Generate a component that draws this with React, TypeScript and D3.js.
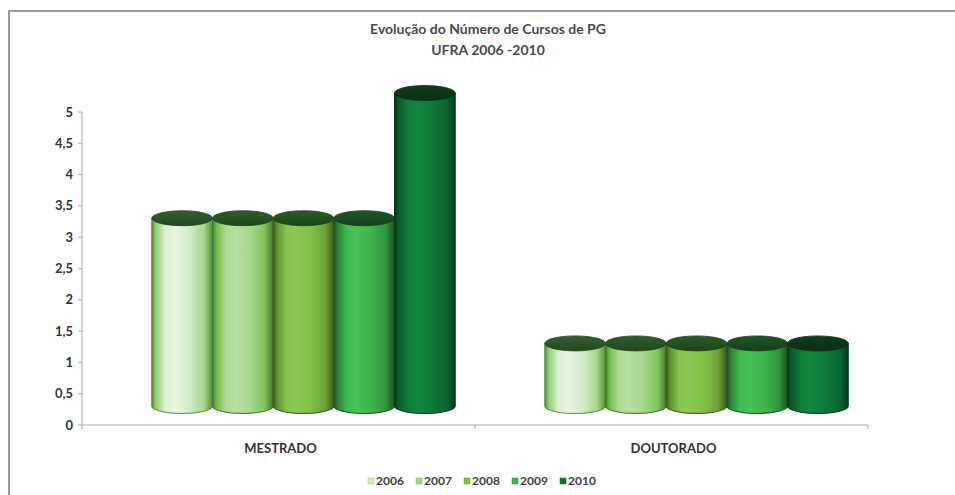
import React from 'react';
import * as d3 from 'd3';

const categories = ['MESTRADO', 'DOUTORADO'];
const years = ['2006', '2007', '2008', '2009', '2010'];
// cursos por categoria, um valor por ano
const mestrado = [3, 3, 3, 3, 5];
const doutorado = [1, 1, 1, 1, 1];
const yTicks = [0, 0.5, 1, 1.5, 2, 2.5, 3, 3.5, 4, 4.5, 5];

const bodyColors = ['#d3ebc6', '#a6d68c', '#80c244', '#3cb44b', '#0d7a38'];
const topColors = ['#2c5a2b', '#285826', '#255621', '#1c5022', '#0d3a18'];

const W = 955;
const H = 495;
const font = 'Lato, "Open Sans", sans-serif';
const depthX = 23; // deslocamento 3D
const depthY = 19;

const App = () => {
  const y = d3.scaleLinear().domain([0, 5]).range([425, 112]);
  const x0 = d3.scaleBand().domain(categories).range([84, 870]);
  const groupW = x0.bandwidth() * 0.772;
  const x1 = d3.scaleBand().domain(years).range([0, groupW]);
  const values = [mestrado, doutorado];
  const rx = x1.bandwidth() / 2;
  const ry = 7.5;
  const fmt = (v: number) => String(v).replace('.', ',');

  const shade = (c: string, k: number) => {
    const col = d3.hsl(c);
    return k > 0 ? col.brighter(k).formatHex() : col.darker(-k).formatHex();
  };

  return (
    <svg width={W} height={H} style={{ position: 'absolute', left: 0, top: 0 }} fontFamily={font}>
      <defs>
        {bodyColors.map((c, i) => (
          <linearGradient key={i} id={`body${i}`} x1="0" x2="1" y1="0" y2="0">
            <stop offset="0%" stopColor={shade(c, -2.2)} />
            <stop offset="7%" stopColor={shade(c, -0.8)} />
            <stop offset="22%" stopColor={shade(c, 0.1)} />
            <stop offset="38%" stopColor={shade(c, 0.25)} />
            <stop offset="62%" stopColor={c} />
            <stop offset="86%" stopColor={shade(c, -0.55)} />
            <stop offset="100%" stopColor={shade(c, -2.2)} />
          </linearGradient>
        ))}
        {topColors.map((c, i) => (
          <linearGradient key={i} id={`top${i}`} x1="0" x2="0" y1="0" y2="1">
            <stop offset="0%" stopColor={shade(c, 0.25)} />
            <stop offset="100%" stopColor={shade(c, -0.7)} />
          </linearGradient>
        ))}
      </defs>
      <rect x={0} y={0} width={W} height={H} fill="#ffffff" />
      <rect x={9} y={11} width={W + 20} height={H + 20} fill="none" stroke="#9a9a9a" strokeWidth={2} />

      <text x={488} y={34} textAnchor="middle" fontSize={14} fontWeight={700} fill="#4a4a4a">
        Evolução do Número de Cursos de PG
      </text>
      <text x={488} y={55} textAnchor="middle" fontSize={14} fontWeight={700} fill="#4a4a4a">
        UFRA 2006 -2010
      </text>

      {/* eixo Y */}
      <line x1={82} x2={82} y1={y(5)} y2={y(0)} stroke="#a8a8a8" />
      {yTicks.map((t) => (
        <g key={t}>
          <line x1={78} x2={82} y1={y(t)} y2={y(t)} stroke="#a8a8a8" />
          <text x={73} y={y(t)} dy="0.35em" textAnchor="end" fontSize={13} fontWeight={700} fill="#333">
            {fmt(t)}
          </text>
        </g>
      ))}

      {/* eixo X */}
      <line x1={82} x2={868} y1={y(0)} y2={y(0)} stroke="#a8a8a8" />
      {[82, 475, 868].map((xx, i) => (
        <line key={i} x1={xx} x2={xx} y1={y(0)} y2={y(0) + 4} stroke="#a8a8a8" />
      ))}
      {categories.map((c) => (
        <text key={c} x={(x0(c) as number) + x0.bandwidth() / 2} y={453} textAnchor="middle"
          fontSize={13} fontWeight={700} fill="#333">
          {c}
        </text>
      ))}

      {/* cilindros */}
      {categories.map((c, ci) => {
        const gx = (x0(c) as number) + x0.bandwidth() / 2 - groupW / 2 + depthX;
        return (
          <g key={c}>
            {values[ci].map((v, i) => {
              const cx = gx + (x1(years[i]) as number) + rx;
              const yb = y(0) - depthY;
              const yt = y(v) - depthY;
              const body = `M${cx - rx},${yt} L${cx - rx},${yb} A${rx},${ry} 0 0 0 ${cx + rx},${yb} L${cx + rx},${yt} Z`;
              return (
                <g key={i}>
                  <path d={body} fill={`url(#body${i})`} stroke={shade(bodyColors[i], -2.2)} strokeWidth={1.1} />
                  <ellipse cx={cx} cy={yt} rx={rx} ry={ry} fill={`url(#top${i})`}
                    stroke={shade(topColors[i], -0.8)} strokeWidth={0.8} />
                </g>
              );
            })}
          </g>
        );
      })}

      {/* legenda */}
      {years.map((yr, i) => (
        <g key={yr} transform={`translate(${368 + i * 48},481)`}>
          <rect x={0} y={-3} width={6} height={6} fill={bodyColors[i]} stroke={shade(bodyColors[i], -0.8)} strokeWidth={0.5} />
          <text x={8} y={0} dy="0.35em" fontSize={12} fontWeight={700} fill="#404040">{yr}</text>
        </g>
      ))}
    </svg>
  );
};

export default App;
